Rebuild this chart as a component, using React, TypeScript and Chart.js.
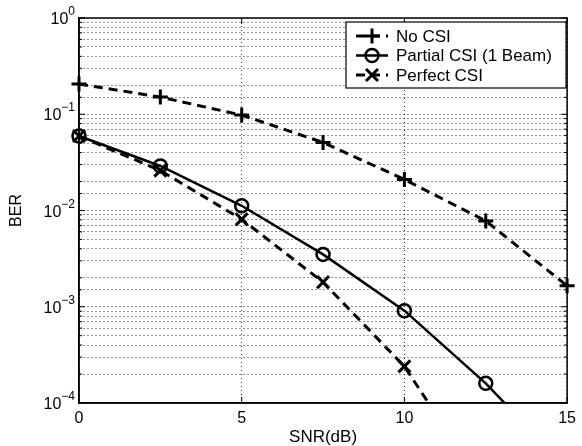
import React, { useEffect, useRef } from "react";
import { Chart, registerables } from "chart.js";

Chart.register(...registerables);

const snr = [0, 2.5, 5, 7.5, 10, 12.5, 15];
const noCsi = [0.206, 0.151, 0.098, 0.051, 0.021, 0.0078, 0.00165];
const partialCsi = [0.0594, 0.029, 0.0112, 0.0035, 0.00091, 0.00016, 0.000021];
const perfectCsi = [0.0594, 0.026, 0.0081, 0.0018, 0.00024, 0.0000125];
const seriesNames = ["No CSI", "Partial CSI (1 Beam)", "Perfect CSI"];
const xTicks = [0, 5, 10, 15];
const yDecades = [1, 0.1, 0.01, 0.001, 0.0001];

const FONT = "'Liberation Sans', Arial, Helvetica, sans-serif";

function toPts(vals: number[]) {
  return vals.map((v, i) => ({ x: snr[i], y: v }));
}

function drawMarker(ctx: CanvasRenderingContext2D, style: string, x: number, y: number) {
  ctx.beginPath();
  if (style === "cross") {
    ctx.lineWidth = 3;
    ctx.moveTo(x - 7.5, y); ctx.lineTo(x + 7.5, y);
    ctx.moveTo(x, y - 7.5); ctx.lineTo(x, y + 7.5);
  } else if (style === "crossRot") {
    ctx.lineWidth = 3;
    const d = 6;
    ctx.moveTo(x - d, y - d); ctx.lineTo(x + d, y + d);
    ctx.moveTo(x - d, y + d); ctx.lineTo(x + d, y - d);
  } else {
    ctx.lineWidth = 2.5;
    ctx.arc(x, y, 6.5, 0, Math.PI * 2);
  }
  ctx.stroke();
}

const framePlugin = {
  id: "frame",
  afterDraw(chart: any) {
    const { ctx, chartArea: a, scales } = chart;
    ctx.save();
    ctx.strokeStyle = "#000";
    ctx.setLineDash([]);
    ctx.lineWidth = 1.5;
    ctx.strokeRect(a.left, a.top, a.right - a.left, a.bottom - a.top);
    // inside ticks
    ctx.lineWidth = 1;
    const ys = scales.y;
    ys.ticks.forEach((t: any) => {
      const p = ys.getPixelForValue(t.value);
      const major = Math.abs(Math.log10(t.value) - Math.round(Math.log10(t.value))) < 1e-6;
      const len = major ? 6 : 3;
      ctx.beginPath();
      ctx.moveTo(a.left, p); ctx.lineTo(a.left + len, p);
      ctx.moveTo(a.right, p); ctx.lineTo(a.right - len, p);
      ctx.stroke();
    });
    const xs = scales.x;
    xs.ticks.forEach((t: any) => {
      const p = xs.getPixelForValue(t.value);
      ctx.beginPath();
      ctx.moveTo(p, a.bottom); ctx.lineTo(p, a.bottom - 6);
      ctx.moveTo(p, a.top); ctx.lineTo(p, a.top + 6);
      ctx.stroke();
    });
    // y tick labels with superscript exponents
    ctx.fillStyle = "#000";
    ctx.textAlign = "left";
    ctx.textBaseline = "alphabetic";
    yDecades.forEach((d) => {
      const p = ys.getPixelForValue(d);
      const e = String(Math.round(Math.log10(d))).replace("-", "\u2212");
      ctx.font = `12px ${FONT}`;
      const ew = ctx.measureText(e).width;
      ctx.font = `16px ${FONT}`;
      const bw = ctx.measureText("10").width;
      const right = a.left - 4;
      const ex = right - ew;
      const bx = ex - bw;
      ctx.fillText("10", bx, p + 6);
      ctx.font = `12px ${FONT}`;
      ctx.fillText(e, ex, p - 3);
    });
    // legend
    const bx = 346, by = 22, bw = 220, bh = 66;
    ctx.fillStyle = "#fff";
    ctx.fillRect(bx, by, bw, bh);
    ctx.lineWidth = 1.2;
    ctx.strokeStyle = "#000";
    ctx.strokeRect(bx, by, bw, bh);
    const rows = [36, 55.5, 75];
    chart.data.datasets.forEach((ds: any, i: number) => {
      const y = rows[i];
      ctx.strokeStyle = "#000";
      ctx.lineWidth = ds.borderWidth;
      ctx.setLineDash(ds.borderDash || []);
      ctx.beginPath();
      ctx.moveTo(356, y); ctx.lineTo(388, y);
      ctx.stroke();
      ctx.setLineDash([]);
      drawMarker(ctx, ds.pointStyle, 372, y);
      ctx.fillStyle = "#000";
      ctx.font = `17px ${FONT}`;
      ctx.textBaseline = "middle";
      ctx.textAlign = "left";
      ctx.fillText(ds.label, 396, y + 1);
    });
    ctx.restore();
  },
};

export default function App() {
  const ref = useRef<HTMLCanvasElement>(null);
  useEffect(() => {
    document.body.style.margin = "0";
    const lineBase = {
      borderColor: "#000",
      pointBorderColor: "#000",
      pointBackgroundColor: "rgba(0,0,0,0)",
      fill: false,
      tension: 0,
      clip: { left: 12, right: 12, top: 12, bottom: 0 },
    };
    const chart = new Chart(ref.current!, {
      type: "line",
      data: {
        datasets: [
          { ...lineBase, label: seriesNames[0], data: toPts(noCsi), borderWidth: 3, borderDash: [9, 6], pointStyle: "cross", pointRadius: 7.5, pointBorderWidth: 3 },
          { ...lineBase, label: seriesNames[1], data: toPts(partialCsi), borderWidth: 2.5, pointStyle: "circle", pointRadius: 6.5, pointBorderWidth: 2.5 },
          { ...lineBase, label: seriesNames[2], data: toPts(perfectCsi), borderWidth: 3, borderDash: [9, 6], pointStyle: "crossRot", pointRadius: 8.5, pointBorderWidth: 3 },
        ] as any,
      },
      options: {
        animation: false,
        responsive: true,
        maintainAspectRatio: false,
        layout: { padding: { top: 18, right: 12, left: 0, bottom: 0 } },
        plugins: { legend: { display: false }, tooltip: { enabled: false } },
        scales: {
          x: {
            type: "linear",
            min: 0,
            max: 15,
            afterBuildTicks: (s: any) => { s.ticks = xTicks.map((v) => ({ value: v })); },
            afterFit: (s: any) => { s.height = 43; },
            ticks: { color: "#000", font: { family: FONT, size: 16 }, padding: 6, maxRotation: 0 },
            grid: { color: "rgba(0,0,0,0.85)", lineWidth: 1, drawTicks: false },
            border: { display: true, color: "#000", width: 1.5, dash: [1, 3] },
            title: { display: true, text: "SNR(dB)", color: "#000", font: { family: FONT, size: 17, lineHeight: 1 }, padding: { top: 0, bottom: 0 } },
          },
          y: {
            type: "logarithmic",
            min: 1e-4,
            max: 1,
            afterFit: (s: any) => { s.width = 79; },
            ticks: {
              autoSkip: false,
              color: "#000",
              font: { family: FONT, size: 16 },
              padding: 7,
              callback: () => "",
            },
            grid: { color: "rgba(0,0,0,0.85)", lineWidth: 1, drawTicks: false },
            border: { display: true, color: "#000", width: 1.5, dash: [1, 3] },
            title: { display: true, text: "BER", color: "#000", font: { family: FONT, size: 16, lineHeight: 1 }, padding: { top: 8.5, bottom: 0 } },
          },
        },
      } as any,
      plugins: [framePlugin],
    });
    return () => chart.destroy();
  }, []);
  return (
    <div style={{ width: 582, height: 446, position: "relative", background: "#fff" }}>
      <canvas ref={ref} />
    </div>
  );
}
